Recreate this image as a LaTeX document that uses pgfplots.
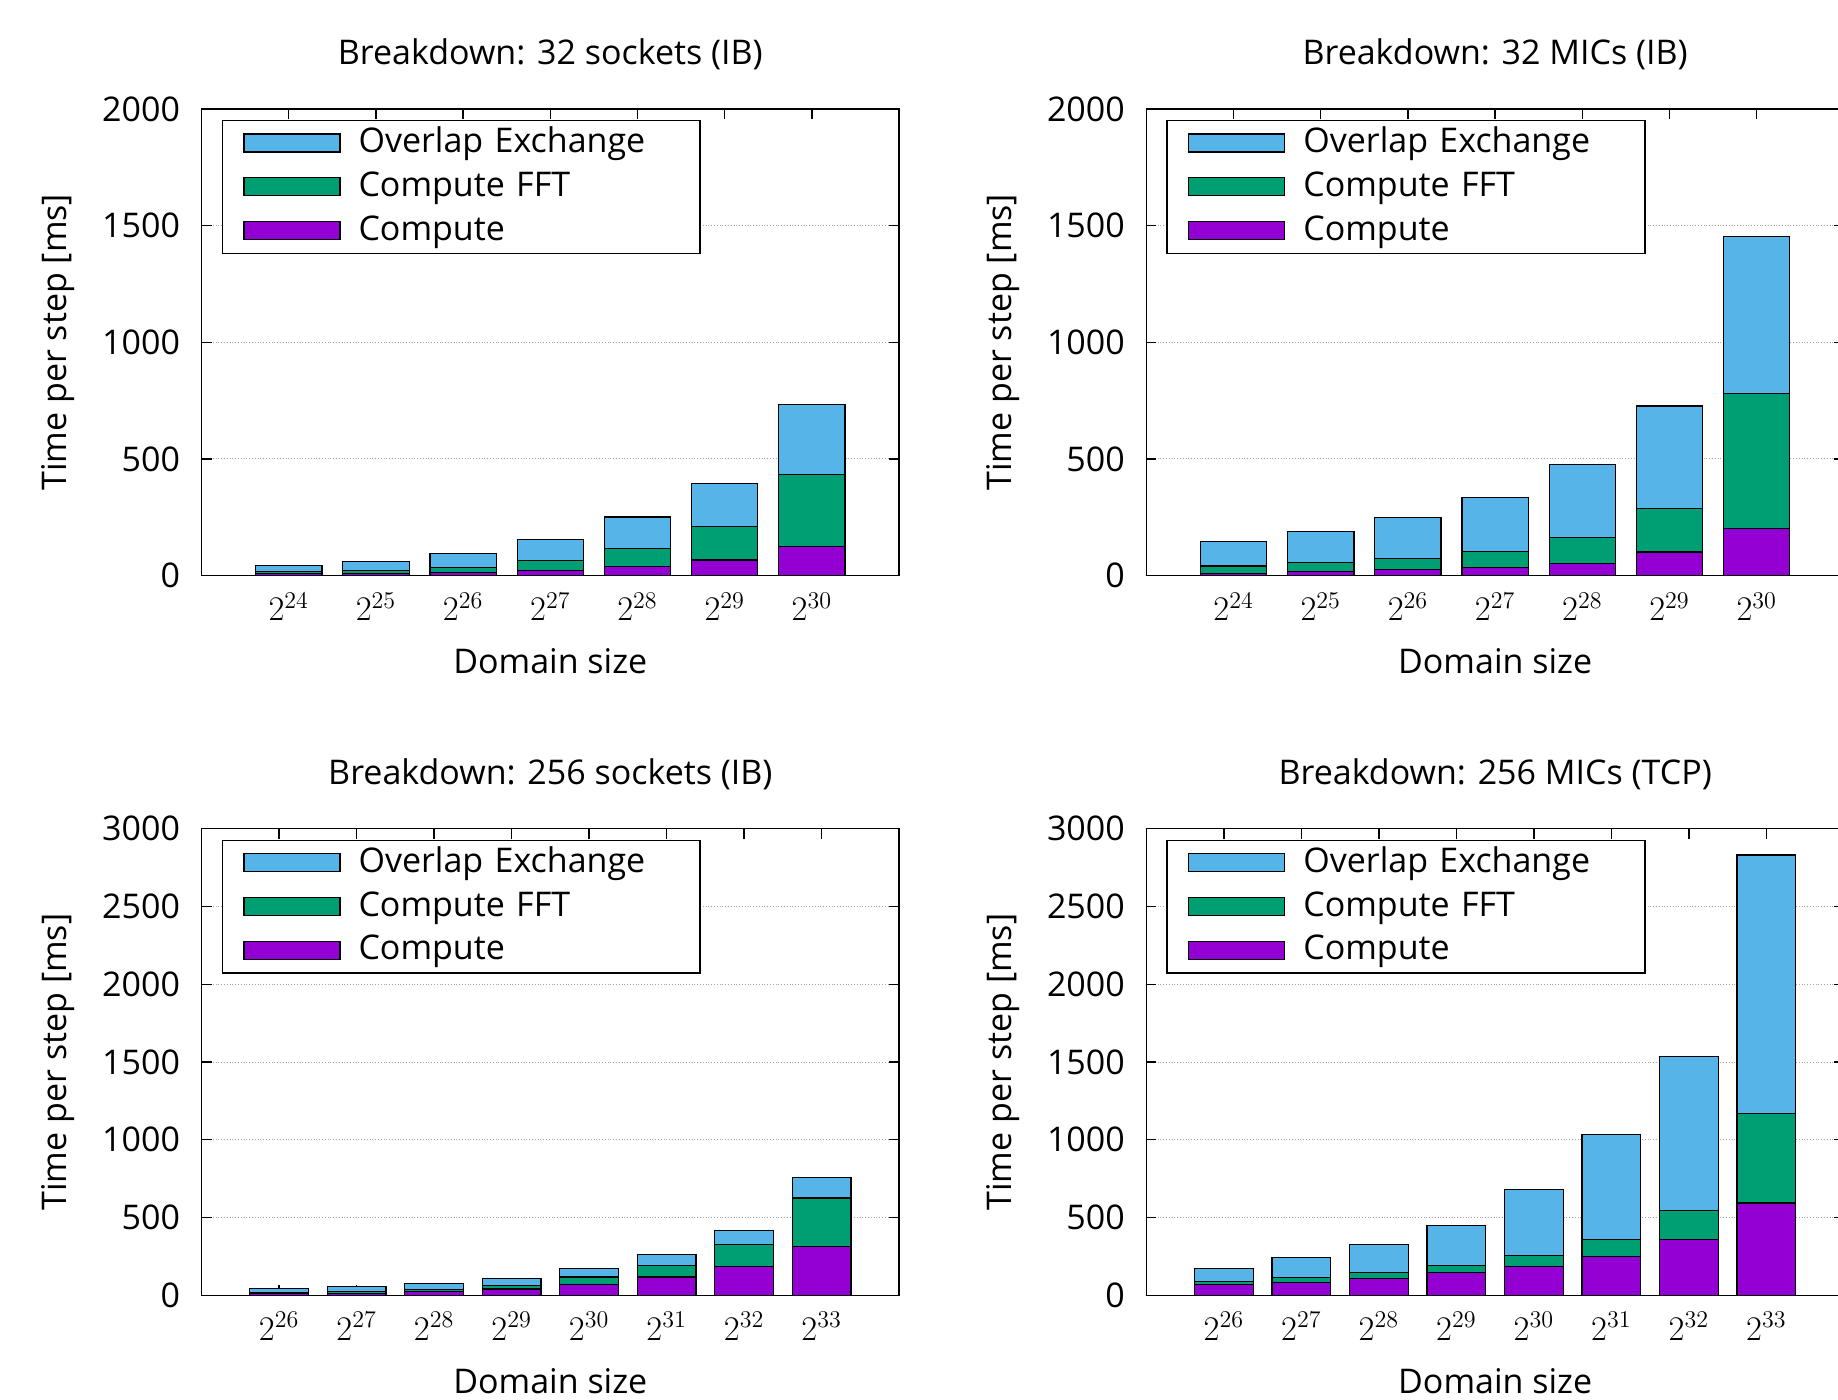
\documentclass[border=0pt]{standalone}
\usepackage{fontspec}
\setmainfont{Open Sans}
\usepackage{pgfplots}
\pgfplotsset{compat=1.18}
\definecolor{cOv}{HTML}{56B4E9}
\definecolor{cFFT}{HTML}{009E73}
\definecolor{cCmp}{HTML}{9400D3}
\pgfplotsset{
 brk/.style={
  scale only axis, width=348.75pt, height=233.25pt,
  ybar stacked, bar width=0.76,
  ymin=0,
  axis line style={line width=0.7pt},
  tick style={line width=0.7pt, black},
  tick align=inside, major tick length=5pt,
  xtick pos=both, ytick pos=both,
  xticklabel pos=lower, yticklabel pos=left,
  ymajorgrids, major grid style={densely dotted, gray!70, line width=0.5pt},
  font=\fontsize{17}{20}\selectfont,
  /pgf/number format/assume math mode=true,
  /pgf/number format/1000 sep={},
  yticklabel style={anchor=east, inner sep=0pt, xshift=-10.6pt},
  xticklabel style={anchor=base, inner sep=0pt, yshift=-22.6pt},
  title style={at={(axis description cs:0.5,1.0907)}, anchor=center, inner sep=0pt},
  xlabel style={at={(axis description cs:0.5,-0.1833)}, anchor=center, inner sep=0pt},
  ylabel style={at={(axis description cs:-0.2052,0.5)}, anchor=center, inner sep=0pt},
  xlabel={Domain size}, ylabel={Time per step [ms]},
  reverse legend,
  legend cell align=left,
  legend style={at={(axis description cs:0.0287,0.977)}, anchor=north west,
    draw=black, line width=0.7pt, fill=white,
    inner xsep=10.5pt, inner ysep=3.05pt, row sep=5.4pt,
    /tikz/every odd column/.append style={column sep=7pt},
    /tikz/every even column/.append style={text width=158.3pt, inner sep=0pt, text height=11pt, text depth=0pt}},
  legend image code/.code={\draw[#1] (0pt,-4.5pt) rectangle (48pt,4.5pt);},
  every axis plot/.append style={draw=black, line width=0.6pt},
 },
 small/.style={xmin=0, xmax=8, xtick={1,...,7}, xticklabels={$2^{24}$,$2^{25}$,$2^{26}$,$2^{27}$,$2^{28}$,$2^{29}$,$2^{30}$}},
 big/.style={xmin=0, xmax=9, xtick={1,...,8}, xticklabels={$2^{26}$,$2^{27}$,$2^{28}$,$2^{29}$,$2^{30}$,$2^{31}$,$2^{32}$,$2^{33}$}},
}
\begin{document}
\begin{tikzpicture}
\useasboundingbox (0,0) rectangle (919pt,700pt);
% Top left
\begin{axis}[brk, small, at={(100.8pt,412.25pt)}, ymax=2000, ytick={0,500,...,2000},
  title={Breakdown: 32 sockets (IB)}]
\addplot[fill=cCmp] coordinates {(1,7) (2,8) (3,14) (4,21) (5,39) (6,66) (7,123)};
\addplot[fill=cFFT] coordinates {(1,9) (2,13) (3,20) (4,42) (5,77) (6,144) (7,311)};
\addplot[fill=cOv] coordinates {(1,28) (2,40) (3,60) (4,90) (5,135) (6,186) (7,299)};
\legend{Compute, Compute FFT, Overlap Exchange}
\end{axis}
% Top right
\begin{axis}[brk, small, at={(573.2pt,412.25pt)}, ymax=2000, ytick={0,500,...,2000},
  title={Breakdown: 32 MICs (IB)}]
\addplot[fill=cCmp] coordinates {(1,10) (2,16) (3,27) (4,33) (5,53) (6,101) (7,203)};
\addplot[fill=cFFT] coordinates {(1,31) (2,40) (3,47) (4,70) (5,110) (6,186) (7,576)};
\addplot[fill=cOv] coordinates {(1,103) (2,131) (3,173) (4,231) (5,313) (6,440) (7,674)};
\legend{Compute, Compute FFT, Overlap Exchange}
\end{axis}
% Bottom left
\begin{axis}[brk, big, at={(100.8pt,52.35pt)}, ymax=3000, ytick={0,500,...,3000},
  title={Breakdown: 256 sockets (IB)}]
\addplot[fill=cCmp] coordinates {(1,9) (2,13) (3,24) (4,41) (5,71) (6,117) (7,186) (8,314)};
\addplot[fill=cFFT] coordinates {(1,8) (2,11) (3,15) (4,22) (5,46) (6,76) (7,139) (8,312)};
\addplot[fill=cOv] coordinates {(1,26) (2,32) (3,35) (4,47) (5,56) (6,69) (7,91) (8,130)};
\legend{Compute, Compute FFT, Overlap Exchange}
\end{axis}
% Bottom right
\begin{axis}[brk, big, at={(573.2pt,52.35pt)}, ymax=3000, ytick={0,500,...,3000},
  title={Breakdown: 256 MICs (TCP)}]
\addplot[fill=cCmp] coordinates {(1,67) (2,82) (3,108) (4,144) (5,183) (6,247) (7,357) (8,594)};
\addplot[fill=cFFT] coordinates {(1,21) (2,34) (3,40) (4,50) (5,71) (6,112) (7,189) (8,576)};
\addplot[fill=cOv] coordinates {(1,86) (2,127) (3,179) (4,256) (5,424) (6,676) (7,992) (8,1661)};
\legend{Compute, Compute FFT, Overlap Exchange}
\end{axis}
\end{tikzpicture}
\end{document}
